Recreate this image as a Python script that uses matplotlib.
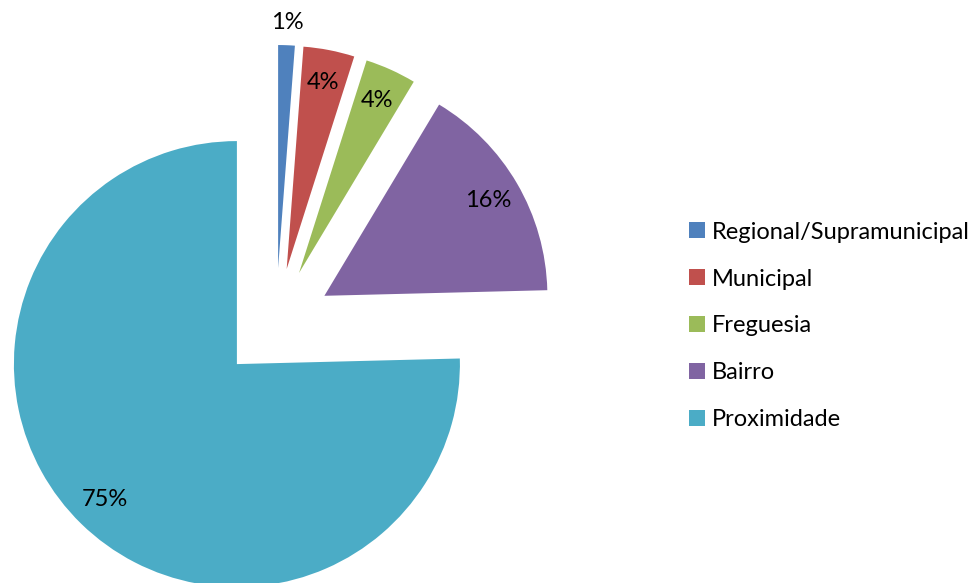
import numpy as np
import matplotlib
matplotlib.use("Agg")
import matplotlib.pyplot as plt

# ---------------------------------------------------------------
# Data: share of facilities by scale of service
# ---------------------------------------------------------------
labels = ["Regional/Supramunicipal", "Municipal", "Freguesia", "Bairro", "Proximidade"]
shares = [1.2, 3.7, 3.7, 16.0, 75.4]
colours = ["#4F81BD", "#C0504D", "#9BBB59", "#8064A2", "#4BACC6"]

plt.rcParams["font.family"] = ["Lato", "DejaVu Sans"]

W, H = 974, 583
fig = plt.figure(figsize=(W / 100, H / 100), dpi=100)
ax = fig.add_axes([0, 0, 1, 1])

# pie in pixel units: centre, radius and explode offset all in px
R = 223
wedges, texts, autotexts = ax.pie(
    shares, colors=colours, startangle=90, counterclock=False,
    center=(276, H - 324), radius=R, explode=[56] * len(shares),
    autopct="%.0f%%", pctdistance=0.85,
    wedgeprops=dict(linewidth=0),
    textprops=dict(fontsize=17, color="black"),
)

# the smallest slice gets its label outside the wedge
w = wedges[0]
mid = np.deg2rad((w.theta1 + w.theta2) / 2)
cx, cy = w.center
autotexts[0].set_position((cx + 1.1 * R * np.cos(mid), cy + 1.1 * R * np.sin(mid)))

ax.set_xlim(0, W)
ax.set_ylim(0, H)
ax.set_aspect("equal")
ax.axis("off")

ax.legend(wedges, labels, loc="center left",
          bbox_to_anchor=(689 / W, 1 - 326 / H), bbox_transform=fig.transFigure,
          frameon=False, fontsize=17, borderpad=0, borderaxespad=0,
          handlelength=0.68, handleheight=0.66, handletextpad=0.3,
          labelspacing=1.1)

fig.savefig("out.png", dpi=100)
